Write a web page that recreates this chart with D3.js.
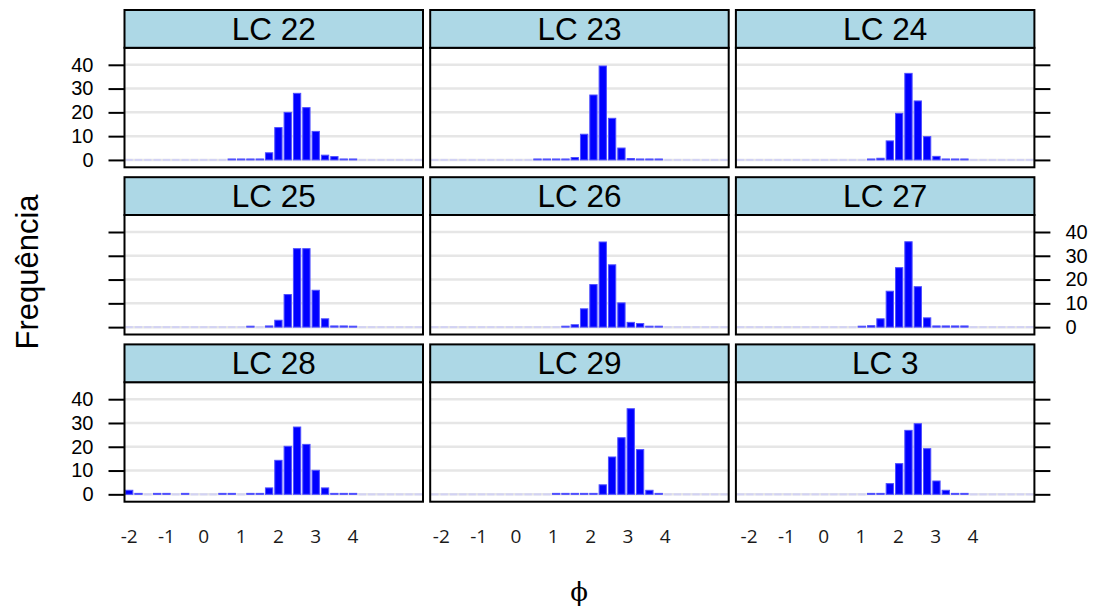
<!DOCTYPE html>
<html>
<head>
<meta charset="utf-8">
<script src="https://cdn.jsdelivr.net/npm/d3@7"></script>
<style>
  html, body { margin: 0; padding: 0; background: #ffffff; }
  svg { display: block; }
</style>
</head>
<body>
<svg id="chart" width="1097" height="610"></svg>
<script>
// ---------------- data ----------------
const phiBins = [-2, -1.75, -1.5, -1.25, -1, -0.75, -0.5, -0.25, 0, 0.25, 0.5, 0.75,
                 1, 1.25, 1.5, 1.75, 2, 2.25, 2.5, 2.75, 3, 3.25, 3.5, 3.75,
                 4, 4.25, 4.5, 4.75, 5, 5.25, 5.5, 5.75];
const panelNames = ["LC 22", "LC 23", "LC 24", "LC 25", "LC 26", "LC 27", "LC 28", "LC 29", "LC 3"];

const lc22 = [0,0,0,0,0,0,0,0,0,0,0,0.4, 0.4,0.4,0.4,3,13.6,20,28,22,12,2,1.4,0.4, 0.4,0,0,0,0,0,0,0];
const lc23 = [0,0,0,0,0,0,0,0,0,0,0,0.4, 0.4,0.4,0.4,1,10.8,27.3,39.5,17.5,5,0.6,0.4,0.4, 0.4,0,0,0,0,0,0,0];
const lc24 = [0,0,0,0,0,0,0,0,0,0,0,0, 0,0,0.4,0.7,8,19.6,36.4,24.8,9.8,1.5,0.4,0.4, 0.4,0,0,0,0,0,0,0];
const lc25 = [0,0,0,0,0,0,0,0,0,0,0,0, 0,0.4,0,0.5,2.9,13.7,33,33,15.5,3.5,0.5,0.5, 0.4,0,0,0,0,0,0,0];
const lc26 = [0,0,0,0,0,0,0,0,0,0,0,0, 0,0,0.4,1,7.7,17.9,35.8,26.2,10.2,2,1.5,0.4, 0.4,0,0,0,0,0,0,0];
const lc27 = [0,0,0,0,0,0,0,0,0,0,0,0, 0,0.4,0.6,3.5,15.1,25,35.9,17,3.9,0.5,0.5,0.5, 0.5,0,0,0,0,0,0,0];
const lc28 = [1.7,0.4,0,0.4,0.4,0,0.4,0,0,0,0.4,0.4, 0,0.4,0.4,2.7,14.3,20.2,28.3,21,10.1,2.7,0.4,0.4, 0.4,0,0,0,0,0,0,0];
const lc29 = [0,0,0,0,0,0,0,0,0,0,0,0, 0,0.4,0.4,0.4,0.4,0.4,4,15.7,23.8,36,18.8,1.7, 0.4,0,0,0,0,0,0,0];
const lc3  = [0,0,0,0,0,0,0,0,0,0,0,0, 0,0,0.4,0.4,4.5,12.9,26.9,29.7,19.2,5.6,1.7,0.4, 0.4,0,0,0,0,0,0,0];
const panelSeries = [lc22, lc23, lc24, lc25, lc26, lc27, lc28, lc29, lc3];

const yTickValues = [0, 10, 20, 30, 40];
const xTickValues = [-2, -1, 0, 1, 2, 3, 4];
const xTickLabels = ["-2", "-1", "0", "1", "2", "3", "4"];
const yLabel = "Frequência";
const xLabel = "\u03D5";

// ---------------- layout ----------------
const svg = d3.select("#chart");
const colLeft0 = 124.5, colPitch = 305.7, panelW = 298.5;
const rowTop0 = 10, rowPitch = 167.2, stripH = 37.8, panelH = 119.5;
const xDomain = [-2.125, 5.875];
const yDomain = [-3.1, 47.15];
const labelShift = [0, 6.5, 8.5];
const barHalf = 3.65;
const sansFont = "'Liberation Sans', Arial, sans-serif";

panelNames.forEach((name, i) => {
  const col = i % 3, row = Math.floor(i / 3);
  const left = colLeft0 + col * colPitch;
  const stripTop = rowTop0 + row * rowPitch;
  const top = stripTop + stripH;
  const bottom = top + panelH;
  const x = d3.scaleLinear().domain(xDomain).range([left, left + panelW]);
  const y = d3.scaleLinear().domain(yDomain).range([bottom, top]);
  const g = svg.append("g");

  // gridlines
  g.selectAll("line.grid").data(yTickValues).enter().append("line")
    .attr("x1", left).attr("x2", left + panelW)
    .attr("y1", d => y(d)).attr("y2", d => y(d))
    .attr("stroke", "#e6e6e6").attr("stroke-width", 2.5);

  const vals = panelSeries[i].map((v, k) => ({ phi: phiBins[k], v }));
  // zero bins (outline only)
  g.selectAll("line.zero").data(vals.filter(d => d.v === 0)).enter().append("line")
    .attr("x1", d => x(d.phi) - barHalf).attr("x2", d => x(d.phi) + barHalf)
    .attr("y1", y(0)).attr("y2", y(0))
    .attr("stroke", "#d2d2f4").attr("stroke-width", 2);
  // bars
  g.selectAll("rect.bar").data(vals.filter(d => d.v > 0)).enter().append("rect")
    .attr("x", d => x(d.phi) - barHalf)
    .attr("width", barHalf * 2)
    .attr("y", d => y(d.v))
    .attr("height", d => y(0) - y(d.v))
    .attr("fill", "#0000ff")
    .attr("stroke", "#5050ff").attr("stroke-width", 1);

  // panel frame
  g.append("rect").attr("x", left).attr("y", top).attr("width", panelW).attr("height", panelH)
    .attr("fill", "none").attr("stroke", "#000").attr("stroke-width", 2);
  // strip
  g.append("rect").attr("x", left).attr("y", stripTop).attr("width", panelW).attr("height", stripH)
    .attr("fill", "#add8e6").attr("stroke", "#000").attr("stroke-width", 2);
  g.append("text").attr("x", left + panelW / 2).attr("y", stripTop + 30)
    .attr("text-anchor", "middle").attr("font-family", sansFont).attr("font-size", 31.5)
    .attr("fill", "#000").text(name);

  // y axes (alternating)
  const styleAxis = sel => {
    sel.select(".domain").remove();
    sel.selectAll(".tick line").attr("stroke", "#000").attr("stroke-width", 2);
    sel.selectAll(".tick text").attr("font-family", sansFont).attr("font-size", 20).attr("fill", "#000");
  };
  if (col === 0) {
    const ax = d3.axisLeft(y).tickValues(yTickValues).tickSize(16).tickPadding(15);
    if (row === 1) ax.tickFormat(() => "");
    svg.append("g").attr("transform", `translate(${left},0)`).call(ax).call(styleAxis);
  }
  if (col === 2) {
    const ax = d3.axisRight(y).tickValues(yTickValues).tickSize(16).tickPadding(15);
    if (row !== 1) ax.tickFormat(() => "");
    svg.append("g").attr("transform", `translate(${left + panelW},0)`).call(ax).call(styleAxis);
  }

  // x labels on bottom row
  if (row === 2) {
    g.selectAll("text.xl").data(xTickValues).enter().append("text")
      .attr("x", d => x(d) + labelShift[col])
      .attr("y", 542.5)
      .attr("text-anchor", "middle")
      .attr("font-family", "'Open Sans', sans-serif").attr("font-size", 19)
      .attr("fill", "#1a1a1a")
      .text((d, j) => xTickLabels[j]);
  }
});

// axis titles
svg.append("text")
  .attr("transform", "translate(38,272) rotate(-90)")
  .attr("text-anchor", "middle").attr("font-family", sansFont).attr("font-size", 31)
  .attr("fill", "#000").text(yLabel);
svg.append("text")
  .attr("x", 579).attr("y", 601)
  .attr("text-anchor", "middle").attr("font-family", "'DejaVu Serif', serif").attr("font-size", 26)
  .attr("fill", "#000").text(xLabel);
</script>
</body>
</html>
